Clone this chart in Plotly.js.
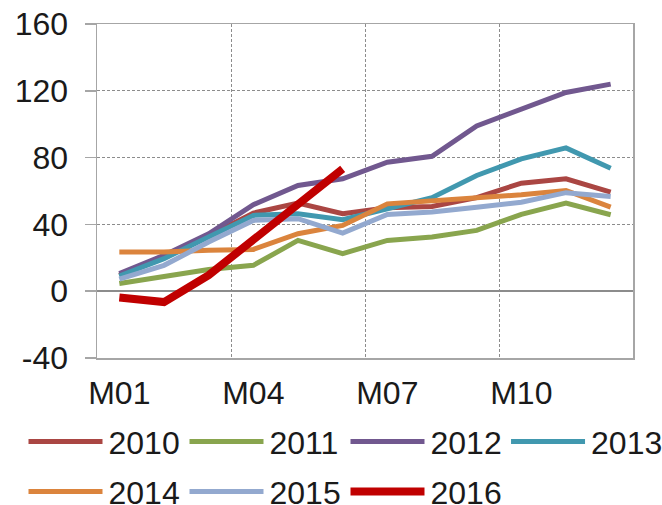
<!DOCTYPE html>
<html><head><meta charset="utf-8">
<script src="https://cdn.plot.ly/plotly-3.0.1.min.js"></script>
<style>html,body{margin:0;padding:0;background:#fff}</style>
</head><body><div id="chart" style="width:662px;height:505px"></div>
<script>
const months = ['M01','M02','M03','M04','M05','M06','M07','M08','M09','M10','M11','M12'];
const tickMonths = ['M01','M04','M07','M10'];
const years = ['2010','2011','2012','2013','2014','2015','2016'];
const v2010 = [9.5, 21, 33, 46.8, 52.8, 46.4, 50, 50.7, 56, 64.7, 67.3, 59.3];
const v2011 = [4.6, 8.5, 13, 15.5, 30.4, 22.5, 30.4, 32.4, 36.4, 46, 52.7, 45.8];
const v2012 = [10.6, 21.5, 34.4, 51.8, 63.3, 67.3, 77.2, 80.8, 99, 109, 119, 124];
const v2013 = [9.1, 19.5, 32.4, 45.4, 46.4, 42.8, 49.4, 56, 69.3, 79.2, 85.8, 73.6];
const v2014 = [23.5, 23.5, 24.5, 25, 34.4, 39.4, 52.3, 54, 55.3, 57.7, 60.3, 50.3];
const v2015 = [7.2, 15.5, 29.4, 42.4, 43.4, 34.8, 46, 47.4, 50.3, 53.3, 59, 56.7];
const v2016 = [-3.8, -6.5, 9.6, 31, 52, 73.2];
const yTicks = [-40, 0, 40, 80, 120, 160];

const series = [v2010, v2011, v2012, v2013, v2014, v2015, v2016];
const colors = ['#AA4643','#89A54E','#71588F','#4198AF','#DB843D','#93A9CF','#C00000'];
const widths = [5, 5, 5, 5, 5, 5, 8];

// month positions on a linear axis: M01 -> 1, ..., M12 -> 12
const monthPos = months.map((m, i) => i + 1);
const tickPos = tickMonths.map(m => months.indexOf(m) + 1);
const gridPos = tickPos.map(p => p - 0.5);

const legendIds = years.map((y, i) => i === 0 ? 'legend' : 'legend' + (i + 1));

const traces = series.map((vals, i) => ({
  type: 'scatter', mode: 'lines', name: years[i],
  legend: legendIds[i],
  x: monthPos.slice(0, vals.length), y: vals,
  text: months.slice(0, vals.length),
  line: {color: colors[i], width: widths[i], shape: 'linear'},
  hoverinfo: 'text+y+name'
}));

const font = {family: '"Liberation Sans", Arial, sans-serif', size: 32, color: '#1a1a1a'};
// legend entry placement (container fractions): 4 entries in row 1, 3 in row 2
const legendCol = [0.0355, 0.2787, 0.5219, 0.7644];
const legendRow = [0.18, 0.081];

const layout = {
  width: 662, height: 505,
  margin: {l: 97, r: 29, t: 24, b: 147, pad: 0, autoexpand: false},
  paper_bgcolor: '#ffffff', plot_bgcolor: '#ffffff',
  font: font,
  showlegend: true,
  xaxis: {
    type: 'linear', range: [0.5, 12.5],
    tickmode: 'array', tickvals: tickPos, ticktext: tickMonths, tickangle: 0,
    ticks: '', showgrid: false,
    minor: {tickmode: 'array', tickvals: gridPos, showgrid: true, ticks: '',
            gridcolor: '#8c8c8c', gridwidth: 1, griddash: '3px,2px'},
    showline: true, linecolor: '#a6a6a6', linewidth: 1.5, mirror: true,
    zeroline: false, ticklabelstandoff: 6, tickfont: font
  },
  yaxis: {
    range: [-40, 160], tickmode: 'array', tickvals: yTicks, ticktext: yTicks.map(String),
    ticks: 'outside', ticklen: 11, tickcolor: '#a6a6a6', tickwidth: 1.5,
    showgrid: true, gridcolor: '#8c8c8c', gridwidth: 1, griddash: '3px,2px',
    showline: true, linecolor: '#a6a6a6', linewidth: 1.5, mirror: true,
    zeroline: true, zerolinecolor: '#8c8c8c', zerolinewidth: 1.5,
    tickfont: font, ticklabelstandoff: 10
  }
};
legendIds.forEach((id, i) => {
  layout[id] = {
    orientation: 'h', xref: 'container', yref: 'container',
    x: legendCol[i % 4], y: legendRow[Math.floor(i / 4)],
    xanchor: 'left', yanchor: 'top',
    font: font, itemwidth: 75, bgcolor: 'rgba(0,0,0,0)', borderwidth: 0
  };
});

Plotly.newPlot('chart', traces, layout, {displayModeBar: false, staticPlot: true}).then(() => {
  document.querySelectorAll('.legendlines path').forEach(p => p.setAttribute('d', 'M5,0h74'));
});
</script></body></html>
